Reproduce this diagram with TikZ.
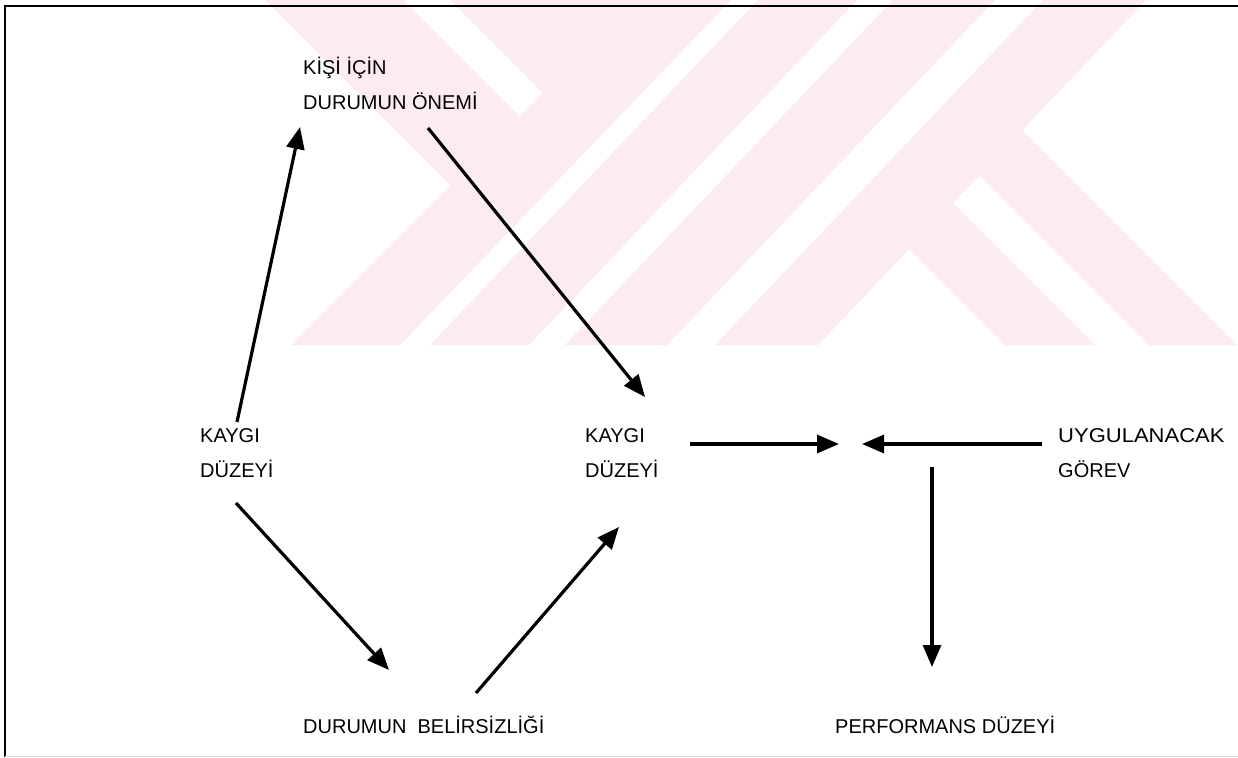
\documentclass[tikz,border=0pt]{standalone}
\usepackage{fontspec}
\setmainfont{Liberation Sans}
\usetikzlibrary{arrows.meta}
\definecolor{markpink}{RGB}{252,236,240}
\tikzset{
  lbl/.style={inner sep=0pt, anchor=base west, font=\fontsize{20}{24}\selectfont},
  flow/.style={line width=3.2pt, -{Triangle[length=22pt,width=18pt]}},
  frameline/.style={line width=1.8pt},
  emblem/.style={fill=markpink, draw=none}
}
\begin{document}
\begin{tikzpicture}[x=1pt,y=-1pt]
\useasboundingbox (0,0) rectangle (1238,757);
\fill[white] (0,0) rectangle (1238,757);

% pale emblem in the upper half
\fill[emblem] (265,0) -- (403,0) -- (519.5,116.5) -- (450.5,185.5) -- cycle;
\fill[emblem] (450,0) -- (636,0) -- (543,93) -- cycle;
\fill[emblem] (636,0) -- (731,0) -- (400,345) -- (291,345) -- cycle;
\fill[emblem] (758,0) -- (857,0) -- (529,345) -- (430,345) -- cycle;
\fill[emblem] (893,0) -- (995,0) -- (667,345) -- (565,345) -- cycle;
\fill[emblem] (1043,0) -- (1146,0) -- (818,345) -- (715,345) -- cycle;
\fill[emblem] (1022,130) -- (1237,345) -- (1149,345) -- (979,175) -- cycle;
\fill[emblem] (953,203) -- (1095,345) -- (1005,345) -- (909,249) -- cycle;

% frame
\draw[frameline] (1238,6) -- (5,6) -- (5,757);
\draw[line width=0.8pt, black!15] (5,756) -- (1238,756);

% labels
\node[lbl] (onem1) at (303,75) {KİŞİ İÇİN};
\node[lbl] (onem2) at (303,110) {DURUMUN ÖNEMİ};
\node[lbl] (kayA1) at (200,442) {KAYGI};
\node[lbl] (kayA2) at (200,477) {DÜZEYİ};
\node[lbl] (kayB1) at (585,442) {KAYGI};
\node[lbl] (kayB2) at (585,477) {DÜZEYİ};
\node[lbl, xscale=1.1] (gor1) at (1058,442) {UYGULANACAK};
\node[lbl] (gor2) at (1058,477) {GÖREV};
\node[lbl] (bel) at (303,733) {DURUMUN\ \ BELİRSİZLİĞİ};
\node[lbl] (perf) at (835,733) {PERFORMANS DÜZEYİ};

% arrow end points
\coordinate (a1s) at (237,422);
\coordinate (a1e) at (300,127);
\coordinate (a2s) at (428,128);
\coordinate (a2e) at (645,397);
\coordinate (a3s) at (236,503);
\coordinate (a3e) at (389,670);
\coordinate (a4s) at (476,693);
\coordinate (a4e) at (619,527);
\coordinate (a5s) at (690,444);
\coordinate (meetL) at (839,444);
\coordinate (a6s) at (1042,444);
\coordinate (meetR) at (862,444);
\coordinate (a7s) at (932,467);
\coordinate (a7e) at (932,667);

\draw[flow] (a1s) -- (a1e);
\draw[flow] (a2s) -- (a2e);
\draw[flow] (a3s) -- (a3e);
\draw[flow] (a4s) -- (a4e);
\draw[flow] (a5s) -- (meetL);
\draw[flow] (a6s) -- (meetR);
\draw[flow] (a7s) -- (a7e);
\end{tikzpicture}
\end{document}
